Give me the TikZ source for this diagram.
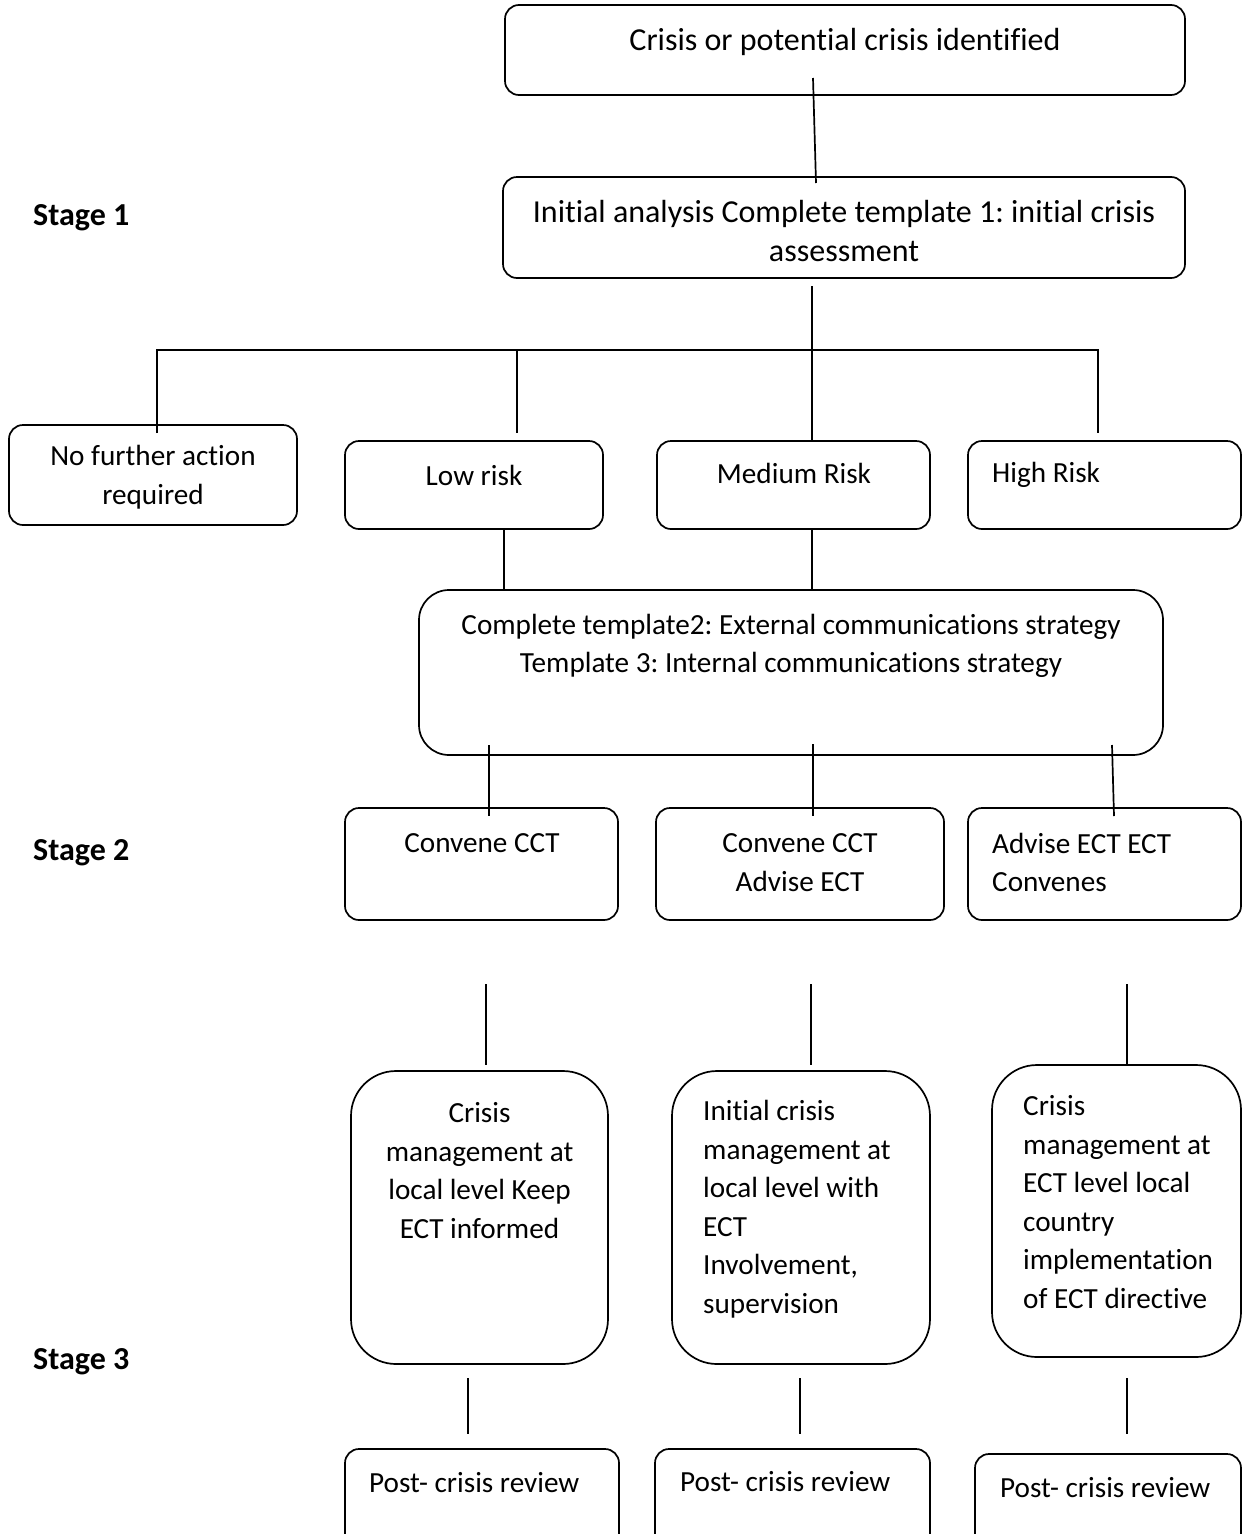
\documentclass[tikz,border=0pt]{standalone}
\usepackage{fontspec}
\setmainfont[Ligatures=NoCommon]{Carlito}
\begin{document}
\frenchspacing
\begin{tikzpicture}[x=1pt,y=-1pt,
  box/.style={draw, line width=1.7pt, rounded corners=14pt, inner sep=0pt},
  bigbox/.style={box, rounded corners=45pt},
  txtL/.style={font=\fontsize{32}{39}\selectfont, inner sep=0pt, align=center},
  txt/.style={font=\fontsize{29.2}{38.5}\selectfont, inner sep=0pt, align=center},
  ltxt/.style={txt, align=left, anchor=west},
  stagelbl/.style={font=\fontsize{32}{39}\selectfont\bfseries, inner sep=0pt, anchor=west},
  ln/.style={line width=1.7pt}]
\useasboundingbox (0,0) rectangle (1244,1534);

% boxes
\node[box, minimum width=680, minimum height=90] (b1) at (845,50) {};
\node[box, minimum width=682, minimum height=101] (b2) at (844,227.5) {};
\node[box, minimum width=288, minimum height=100] (b3) at (153,475) {};
\node[box, minimum width=258, minimum height=88] (b4) at (474,485) {};
\node[box, minimum width=273, minimum height=88] (b5) at (793.5,485) {};
\node[box, minimum width=273, minimum height=88] (b6) at (1104.5,485) {};
\node[box, rounded corners=30pt, minimum width=744, minimum height=165] (b7) at (791,672.5) {};
\node[box, minimum width=273, minimum height=112] (b8) at (481.5,864) {};
\node[box, minimum width=288, minimum height=112] (b9) at (800,864) {};
\node[box, minimum width=273, minimum height=112] (b10) at (1104.5,864) {};
\node[bigbox, minimum width=257, minimum height=293] (b11) at (479.5,1217.5) {};
\node[bigbox, minimum width=258, minimum height=293] (b12) at (801,1217.5) {};
\node[bigbox, minimum width=249, minimum height=292] (b13) at (1116.5,1211) {};
\node[box, minimum width=274, minimum height=111] (b14) at (482,1504.5) {};
\node[box, minimum width=275, minimum height=111] (b15) at (792.5,1504.5) {};
\node[box, minimum width=266, minimum height=111] (b16) at (1108,1509.5) {};

% texts
\node[txtL] (t1) at (845,42) {Crisis or potential crisis identified};
\node[txtL] (t2) at (844,231) {Initial analysis Complete template 1: initial crisis\\assessment};
\node[txt] (t3) at (153,477) {No further action\\required};
\node[txt] (t4) at (474,475) {Low risk};
\node[txt] (t5) at (794,473) {Medium Risk};
\node[ltxt] (t6) at (992,475) {High Risk};
\node[txt] (t7) at (791,646) {Complete template2: External communications strategy\\Template 3: Internal communications strategy};
\node[txt] (t8) at (482,843) {Convene CCT};
\node[txt] (t9) at (800,862.5) {Convene CCT\\Advise ECT};
\node[ltxt] (t10) at (992,862.5) {Advise ECT ECT\\Convenes};
\node[txt] (t11) at (479.5,1170.5) {Crisis\\management at\\local level Keep\\ECT informed};
\node[ltxt] (t12) at (703,1209) {Initial crisis\\management at\\local level with\\ECT\\Involvement,\\supervision};
\node[ltxt] (t13) at (1023,1202) {Crisis\\management at\\ECT level local\\country\\implementation\\of ECT directive};
\node[ltxt] (t14) at (369,1483) {Post- crisis review};
\node[ltxt] (t15) at (680,1482) {Post- crisis review};
\node[ltxt] (t16) at (1000,1488) {Post- crisis review};

\node[stagelbl] (s1) at (33,218) {Stage 1};
\node[stagelbl] (s2) at (33,853) {Stage 2};
\node[stagelbl] (s3) at (33,1362) {Stage 3};

% connector end points
\coordinate (p1a) at (813,78);   \coordinate (p1b) at (816,183);
\coordinate (p2a) at (812,286);
\coordinate (busL) at (157,350); \coordinate (busR) at (1098,350);
\coordinate (busM) at (517,350); \coordinate (busC) at (812,350);
\coordinate (e3) at (157,433);   \coordinate (e4) at (517,433);
\coordinate (e6) at (1098,433);
\coordinate (xl) at (504,0);     \coordinate (xm) at (812,0);
\coordinate (q1a) at (489,745);  \coordinate (q1b) at (489,816);
\coordinate (q2a) at (813,744);  \coordinate (q2b) at (813,816);
\coordinate (q3a) at (1112,745); \coordinate (q3b) at (1114,816);
\coordinate (r1a) at (486,984);  \coordinate (r1b) at (486,1065);
\coordinate (r2a) at (811,984);  \coordinate (r2b) at (811,1065);
\coordinate (r3a) at (1127,984); \coordinate (r3b) at (1127,1065);
\coordinate (u1a) at (468,1378); \coordinate (u1b) at (468,1434);
\coordinate (u2a) at (800,1378); \coordinate (u2b) at (800,1434);
\coordinate (u3a) at (1127,1378);\coordinate (u3b) at (1127,1434);

% connectors
\draw[ln] (p1a) -- (p1b);
\draw[ln] (p2a) -- (b5.north -| p2a);
\draw[ln] (e3) -- (busL) -- (busR) -- (e6);
\draw[ln] (busM) -- (e4);
\draw[ln] (b4.south -| xl) -- (b7.north -| xl);
\draw[ln] (b5.south -| xm) -- (b7.north -| xm);
\draw[ln] (q1a) -- (q1b);
\draw[ln] (q2a) -- (q2b);
\draw[ln] (q3a) -- (q3b);
\draw[ln] (r1a) -- (r1b);
\draw[ln] (r2a) -- (r2b);
\draw[ln] (r3a) -- (r3b);
\draw[ln] (u1a) -- (u1b);
\draw[ln] (u2a) -- (u2b);
\draw[ln] (u3a) -- (u3b);
\end{tikzpicture}
\end{document}
